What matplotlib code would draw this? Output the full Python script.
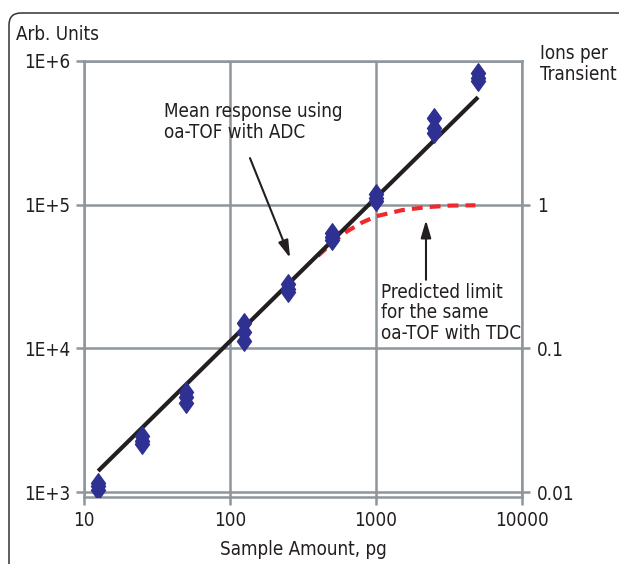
import numpy as np
import matplotlib
matplotlib.use('Agg')
import matplotlib.pyplot as plt
from matplotlib.patches import FancyBboxPatch
from matplotlib.path import Path
from matplotlib.transforms import IdentityTransform

plt.rcParams['font.family'] = ['DejaVu Sans']
plt.rcParams['font.stretch'] = 'condensed'

# measured sample amounts (pg) and responses (arb. units)
amount = [12.5, 12.5, 12.5, 25, 25, 25, 50, 50, 50,
          125, 125, 125, 250, 250, 250, 500, 500, 500,
          1000, 1000, 1000, 2500, 2500, 2500, 5000, 5000, 5000]
response = [1150, 1100, 1030, 2450, 2250, 2150, 5000, 4600, 4150,
            15000, 13000, 11200, 28000, 26000, 24500, 64000, 60000, 57000,
            118000, 112000, 106000, 400000, 340000, 315000, 820000, 760000, 720000]

# mean response line (ADC)
fit_x = [12.5, 5000]
fit_y = [1400, 560000]

# predicted TDC limit
tdc_x = [400, 500, 630, 800, 1000, 1500, 2200, 3200, 4800]
tdc_y = [44000, 54000, 65000, 75000, 83000, 91500, 96000, 98500, 99000]

left_ticks = [1e3, 1e4, 1e5, 1e6]
left_labels = ['1E+3', '1E+4', '1E+5', '1E+6']
right_ticks = [0.01, 0.1, 1]
right_labels = ['0.01', '0.1', '1']
x_ticks = [10, 100, 1000, 10000]
x_labels = ['10', '100', '1000', '10000']

grey = '#8e959b'
ink = '#231f20'
fs = 13.5

fig = plt.figure(figsize=(6.19, 5.64), dpi=100)
ax = fig.add_axes([84/619, 1-497/564, (522-84)/619, (497-61)/564])

ax.set_xscale('log')
ax.set_yscale('log')
ax.set_xlim(10, 10000)
ax.set_ylim(923, 1e6)

ax.plot(fit_x, fit_y, color=ink, lw=3, zorder=3, solid_capstyle='butt')
ax.plot(tdc_x, tdc_y, color='#ee2a2e', lw=3, ls=(0, (2.6, 1.7)), zorder=2)

diamond = Path([(0, -1), (0.72, 0), (0, 1), (-0.72, 0), (0, -1)],
               [Path.MOVETO, Path.LINETO, Path.LINETO, Path.LINETO, Path.CLOSEPOLY])
ax.plot(amount, response, ls='none', marker=diamond, ms=14,
        color='#2e3192', mec='#2e3192', zorder=4)

ax.set_xticks(x_ticks)
ax.set_xticklabels(x_labels)
ax.set_yticks(left_ticks)
ax.set_yticklabels(left_labels)
ax.minorticks_off()
ax.grid(True, color=grey, lw=1.8)
ax.set_axisbelow(True)
for s in ax.spines.values():
    s.set_color(grey)
    s.set_linewidth(1.8)
ax.tick_params(direction='out', length=6, width=1.8, color=grey,
               labelsize=fs, labelcolor=ink, pad=4)
ax.set_xlabel('Sample Amount, pg', fontsize=fs, color=ink, labelpad=7)

ax2 = ax.twinx()
ax2.set_yscale('log')
ax2.set_ylim(923e-5, 10)
ax2.set_yticks(right_ticks)
ax2.set_yticklabels(right_labels)
ax2.minorticks_off()
for s in ax2.spines.values():
    s.set_visible(False)
ax2.tick_params(direction='out', length=6, width=1.8, color=grey,
                labelsize=fs, labelcolor=ink, pad=5)

head = '-|>,head_length=0.75,head_width=0.22'
ax.annotate('', xy=(258, 42600), xytext=(137, 211000),
            arrowprops=dict(arrowstyle=head, color=ink, lw=1.5,
                            mutation_scale=14, shrinkA=0, shrinkB=0))
ax.annotate('', xy=(2200, 78000), xytext=(2200, 30000),
            arrowprops=dict(arrowstyle=head, color=ink, lw=1.5,
                            mutation_scale=14, shrinkA=0, shrinkB=0))

fig.text(164/619, 1-102/564, 'Mean response using\noa-TOF with ADC', fontsize=fs,
         color=ink, va='top', ha='left', linespacing=1.15)
fig.text(381/619, 1-283/564, 'Predicted limit\nfor the same\noa-TOF with TDC', fontsize=fs,
         color=ink, va='top', ha='left', linespacing=1.1)
fig.text(16/619, 1-35/564, 'Arb. Units', fontsize=fs, color=ink, va='center', ha='left')
fig.text(540/619, 1-44/564, 'Ions per\nTransient', fontsize=fs, color=ink,
         va='top', ha='left', linespacing=1.15)

box = FancyBboxPatch((9, -60), 700, 564-13+60, boxstyle='round,pad=0,rounding_size=12',
                     transform=IdentityTransform(), fill=False, ec='#333333', lw=1.1)
fig.add_artist(box)

fig.savefig('out.png', dpi=100)
